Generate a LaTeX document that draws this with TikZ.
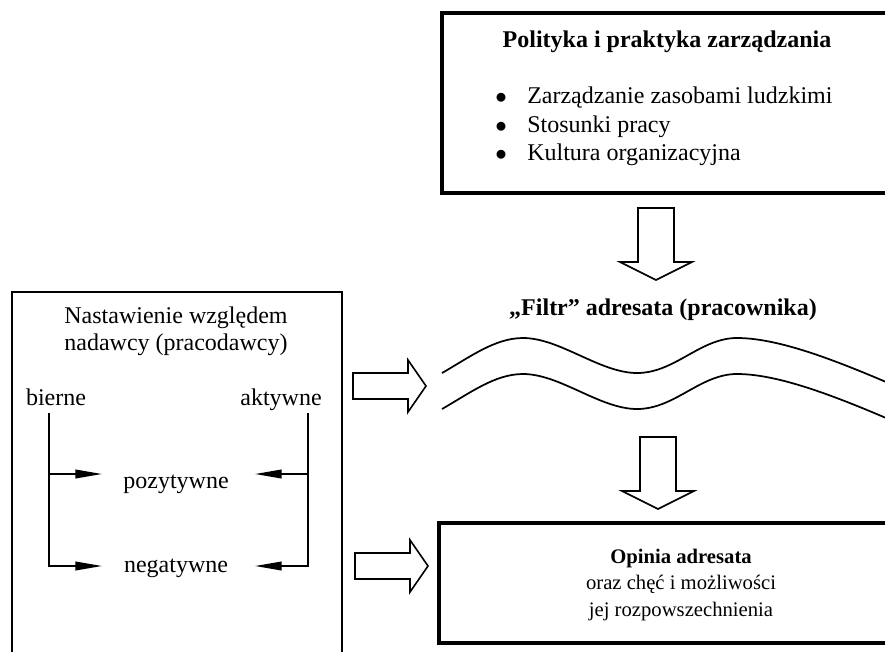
\documentclass[tikz,border=0pt]{standalone}
\usepackage{fontspec}
\setmainfont{Liberation Serif}
\usetikzlibrary{arrows.meta}

\tikzset{
  thickbox/.style={line width=2.8pt},
  thinbox/.style={line width=1.3pt},
  pointer/.style={line width=1.3pt,-{Triangle[length=20pt,width=6.5pt]}},
  wave/.style={line width=1.3pt},
  hollow/.style={line width=1.2pt,line join=miter},
  txt/.style={inner sep=0pt,font=\fontsize{18}{20.25}\selectfont},
  smalltxt/.style={inner sep=0pt,font=\fontsize{15.5}{20}\selectfont},
  pics/hollowdown/.style={code={
    \draw[hollow] (-18,0) -- (18,0) -- (18,-54) -- (36,-54) -- (0,-72) -- (-36,-54) -- (-18,-54) -- cycle;}},
  pics/hollowright/.style={code={
    \draw[hollow] (0,-13) -- (55,-13) -- (55,-26) -- (73,0) -- (55,26) -- (55,13) -- (0,13) -- cycle;}}
}

\begin{document}
\begin{tikzpicture}[x=0.75pt,y=0.75pt,yscale=-1]

\useasboundingbox (0,0) rectangle (885,651);
\clip (0,0) rectangle (885,651);

%Boxes
\draw[thickbox] (900,13) -- (442,13) -- (442,193) -- (900,193);
\draw[thinbox] (12,700) -- (12,292) -- (342,292) -- (342,700);
\draw[thickbox] (900,523) -- (439,523) -- (439,643) -- (900,643);

% Text Node
\node[txt,anchor=base] (policy) at (667,47) {\bfseries Polityka i praktyka zarządzania};
\node[txt,anchor=base west] (hrm) at (495,103) {\makebox[24pt][l]{$\bullet$}Zarządzanie zasobami ludzkimi};
\node[txt,anchor=base west] (relations) at (495,132) {\makebox[24pt][l]{$\bullet$}Stosunki pracy};
\node[txt,anchor=base west] (culture) at (495,160) {\makebox[24pt][l]{$\bullet$}Kultura organizacyjna};

% Text Node
\node[txt,anchor=base] (filter) at (663,315) {\bfseries „Filtr” adresata (pracownika)};

% Text Node
\node[txt,align=center] (attitude) at (176,331) {Nastawienie względem\\nadawcy (pracodawcy)};
\node[txt,anchor=base] (passive) at (56,405) {bierne};
\node[txt,anchor=base] (active) at (281,405) {aktywne};
\node[txt,anchor=base] (positive) at (176,488) {pozytywne};
\node[txt,anchor=base] (negative) at (176,572) {negatywne};

% Text Node
\node[smalltxt,align=center] (opinion) at (681,585) {\bfseries Opinia adresata\\oraz chęć i możliwości\\jej rozpowszechnienia};

%Filter waves
\foreach \dy in {0,36}
  \draw[wave,shift={(0,\dy)}] (442,373) .. controls (470,357) and (495,338) .. (523,338)
    .. controls (560,338) and (600,373) .. (637,373)
    .. controls (675,373) and (700,338) .. (737,338)
    .. controls (780,338) and (840,362) .. (900,388);

%Attitude arrows
\coordinate (passtop) at (49,413);
\coordinate (acttop) at (308,413);
\coordinate (posl) at (102,474);
\coordinate (posr) at (255,474);
\coordinate (negl) at (102,566);
\coordinate (negr) at (255,566);
\draw[pointer] (passtop) |- (negl);
\draw[pointer] (passtop |- posl) -- (posl);
\draw[pointer] (acttop) |- (negr);
\draw[pointer] (acttop |- posr) -- (posr);

%Block arrows
\pic at (656,208) {hollowdown};
\pic at (658,437) {hollowdown};
\pic at (353,386) {hollowright};
\pic at (355,566) {hollowright};

\end{tikzpicture}
\end{document}
